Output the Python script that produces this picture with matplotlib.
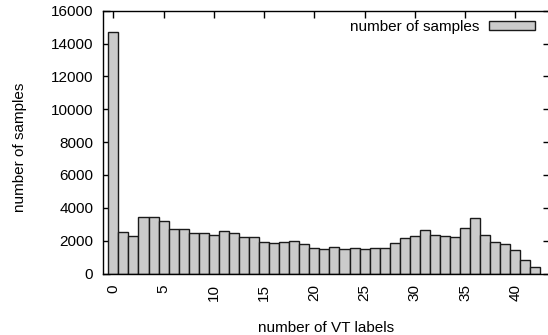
import matplotlib
matplotlib.use("Agg")
import matplotlib.pyplot as plt
import numpy as np

# Histogram of how many VT labels each sample carries
vt_labels = list(range(43))
samples = [14700, 2530, 2280, 3430, 3410, 3210, 2730, 2730, 2460, 2460,
           2340, 2590, 2460, 2220, 2220, 1940, 1860, 1920, 2000, 1800,
           1560, 1490, 1620, 1490, 1560, 1490, 1560, 1580, 1880, 2140,
           2280, 2670, 2340, 2260, 2220, 2770, 3350, 2360, 1920, 1800,
           1410, 830, 400]
xticks = list(range(0, 41, 5))
yticks = list(range(0, 16001, 2000))

plt.rcParams["font.family"] = ["Liberation Sans", "DejaVu Sans"]
FS = 11

W, H = 548, 335
fig = plt.figure(figsize=(W / 100, H / 100), dpi=100)
left, right, top, bottom = 103.3, 549.5, 10.7, 273.5
aw, ah = right - left, bottom - top
ax = fig.add_axes([left / W, 1 - bottom / H, aw / W, ah / H])

ax.bar(vt_labels, samples, width=1.0, color="#cbcbcb", edgecolor="#1a1a1a",
       linewidth=1.0, zorder=2, label="number of samples")

ax.set_xlim(-1, 43.4)
ax.set_ylim(0, 16000)
ax.set_xticks(xticks)
ax.set_yticks(yticks)
ax.tick_params(axis="both", direction="in", length=5, width=1.0,
               top=True, right=True, labelsize=FS, colors="black")
ax.tick_params(axis="x", pad=7.8, labelrotation=90)
ax.tick_params(axis="y", pad=7.3)
for lab in ax.get_xticklabels():
    lab.set_verticalalignment("top")

for sp in ax.spines.values():
    sp.set_linewidth(1.0)
    sp.set_zorder(3)

ax.set_xlabel("number of VT labels", fontsize=FS, va="center")
ax.set_ylabel("number of samples", fontsize=FS, va="center")
ax.xaxis.set_label_coords((326 - left) / aw, (bottom - 327.5) / ah)
ax.yaxis.set_label_coords((20 - left) / aw, (bottom - 147) / ah)

leg = ax.legend(loc="upper right", bbox_to_anchor=(535 / W, 1 - 20 / H),
                bbox_transform=fig.transFigure, frameon=False, markerfirst=False,
                fontsize=FS, handlelength=3.0, handleheight=0.45,
                handletextpad=0.65, borderpad=0, borderaxespad=0)

fig.savefig("out.png", dpi=100)
